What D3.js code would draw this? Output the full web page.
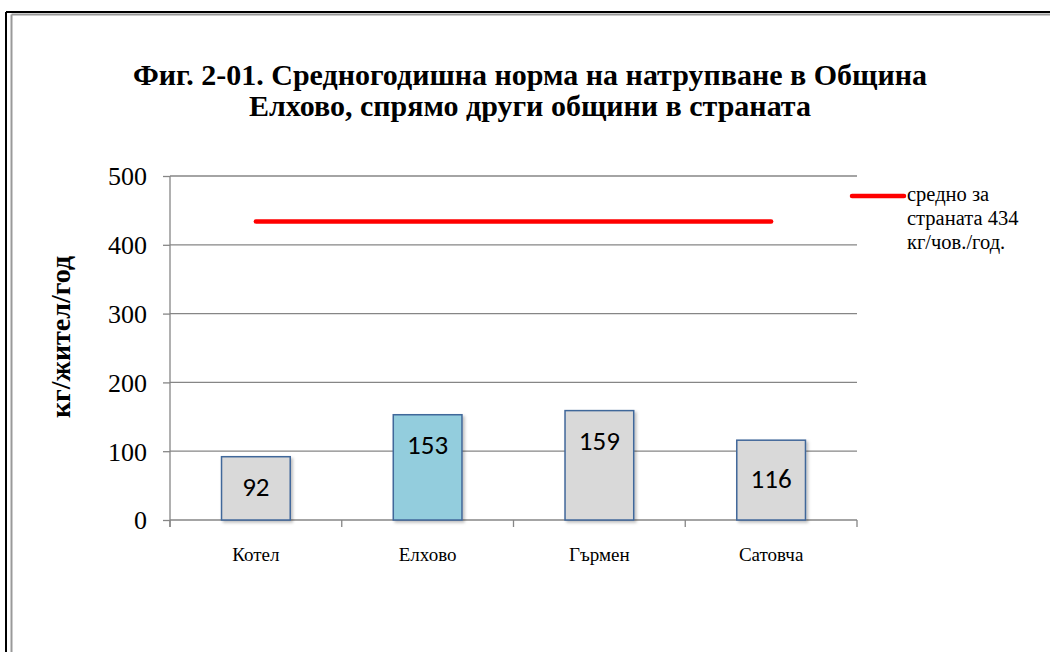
<!DOCTYPE html>
<html><head><meta charset="utf-8">
<script src="https://cdn.jsdelivr.net/npm/d3@7"></script>
<style>body{margin:0;background:#fff}svg{display:block}</style>
</head><body>
<script>
const categories = ["Котел", "Елхово", "Гърмен", "Сатовча"];
const values = [92, 153, 159, 116];
const averageValue = 434;
const yTicks = [0, 100, 200, 300, 400, 500];
const titleLines = ["Фиг. 2-01. Средногодишна норма на натрупване в Община", "Елхово, спрямо други общини в страната"];
const yTitle = "кг/жител/год";
const legendLines = ["средно за", "страната 434", "кг/чов./год."];
const highlight = "Елхово";

(function(){
const W = 1050, H = 652;
const svg = d3.select("body").append("svg").attr("width", W).attr("height", H);
const serif = "'Liberation Serif','Times New Roman',serif";

// frame
svg.append("line").attr("x1",6).attr("y1",12).attr("x2",W).attr("y2",12).attr("stroke","#000").attr("stroke-width",2);
svg.append("line").attr("x1",6).attr("y1",12).attr("x2",6).attr("y2",H).attr("stroke","#000").attr("stroke-width",2);
svg.append("line").attr("x1",11.5).attr("y1",14.5).attr("x2",W).attr("y2",14.5).attr("stroke","#999").attr("stroke-width",2);
svg.append("line").attr("x1",11.5).attr("y1",14.5).attr("x2",11.5).attr("y2",H).attr("stroke","#999").attr("stroke-width",2);

// title
svg.append("text").attr("x",530).attr("text-anchor","middle")
  .style("font-family",serif).style("font-weight","bold").style("font-size","30px").attr("fill","#000")
  .selectAll("tspan").data(titleLines).join("tspan")
  .attr("x",530).attr("y",(d,i)=>85+i*31).text(d=>d);

const pl = 170, pr = 857, pt = 176, pb = 520;
const x = d3.scaleBand().domain(categories).range([pl,pr]).paddingInner(0).paddingOuter(0);
const y = d3.scaleLinear().domain([0,500]).range([pb,pt]);

// gridlines
svg.append("g").selectAll("line").data(yTicks.filter(t=>t>0)).join("line")
  .attr("x1",pl).attr("x2",pr).attr("y1",d=>y(d)).attr("y2",d=>y(d))
  .attr("stroke","#868686").attr("stroke-width",1.3);

// y axis
const yAxis = svg.append("g").attr("transform",`translate(${pl},0)`)
  .call(d3.axisLeft(y).tickValues(yTicks).tickSize(7).tickPadding(16));
yAxis.select(".domain").attr("stroke","#868686").attr("stroke-width",1.3).attr("d",`M0,${pt}V${pb+7}`);
yAxis.selectAll(".tick line").attr("stroke","#868686").attr("stroke-width",1.3);
yAxis.selectAll(".tick text").style("font-family",serif).style("font-size","26px").attr("fill","#000").attr("dy","0.34em");

// x axis
const xAxis = svg.append("g").attr("transform",`translate(0,${pb})`)
  .call(d3.axisBottom(x).tickSize(0).tickPadding(28));
xAxis.select(".domain").attr("stroke","#868686").attr("stroke-width",1.3).attr("d",`M${pl},0H${pr}`);
xAxis.selectAll(".tick text").style("font-family",serif).style("font-size","19px").attr("fill","#000");
const bounds = categories.map(c=>x(c)).concat([pr]);
xAxis.append("g").selectAll("line").data(bounds).join("line")
  .attr("x1",d=>d).attr("x2",d=>d)
  .attr("y1",0).attr("y2",7).attr("stroke","#868686").attr("stroke-width",1.3);

// y title
svg.append("text").attr("transform",`translate(70,${337}) rotate(-90)`).attr("text-anchor","middle")
  .style("font-family",serif).style("font-weight","bold").style("font-size","28px").attr("fill","#000").text(yTitle);

// shadow filter
const defs = svg.append("defs");
const f = defs.append("filter").attr("id","sh").attr("x","-20%").attr("y","-20%").attr("width","150%").attr("height","150%");
f.append("feDropShadow").attr("dx",2).attr("dy",2).attr("stdDeviation",1.5).attr("flood-color","#000").attr("flood-opacity",0.25);

// bars
const bw = x.bandwidth()*0.4;
const data = categories.map((c,i)=>({c, v: values[i]}));
svg.append("g").selectAll("rect").data(data).join("rect")
  .attr("x",d=>x(d.c)+x.bandwidth()/2-bw/2).attr("width",bw)
  .attr("y",d=>y(d.v)).attr("height",d=>pb-y(d.v))
  .attr("fill",d=>d.c===highlight?"#93cddd":"#d9d9d9")
  .attr("stroke","#41679a").attr("stroke-width",1.5).attr("filter","url(#sh)");

// labels
svg.append("g").selectAll("text").data(data).join("text")
  .attr("x",d=>x(d.c)+x.bandwidth()/2).attr("y",d=>y(d.v)+30+(d.v<120&&d.v>100?8:0))
  .attr("text-anchor","middle").attr("dy","0.36em")
  .style("font-family","Carlito,Lato,'Open Sans',sans-serif").style("font-size","27px").attr("fill","#000")
  .text(d=>d.v);

// average line
const line = d3.line().x(d=>x(d)+x.bandwidth()/2).y(()=>y(averageValue));
svg.append("path").datum(categories).attr("d",line).attr("fill","none")
  .attr("stroke","#ff0000").attr("stroke-width",4.5).attr("stroke-linecap","round");

// legend
svg.append("line").attr("x1",852).attr("x2",904).attr("y1",196).attr("y2",196)
  .attr("stroke","#ff0000").attr("stroke-width",4.5).attr("stroke-linecap","round");
svg.append("text").style("font-family",serif).style("font-size","20.5px").attr("fill","#000")
  .selectAll("tspan").data(legendLines).join("tspan")
  .attr("x",907).attr("y",(d,i)=>201+i*24).text(d=>d);
})();
</script>
</body></html>
